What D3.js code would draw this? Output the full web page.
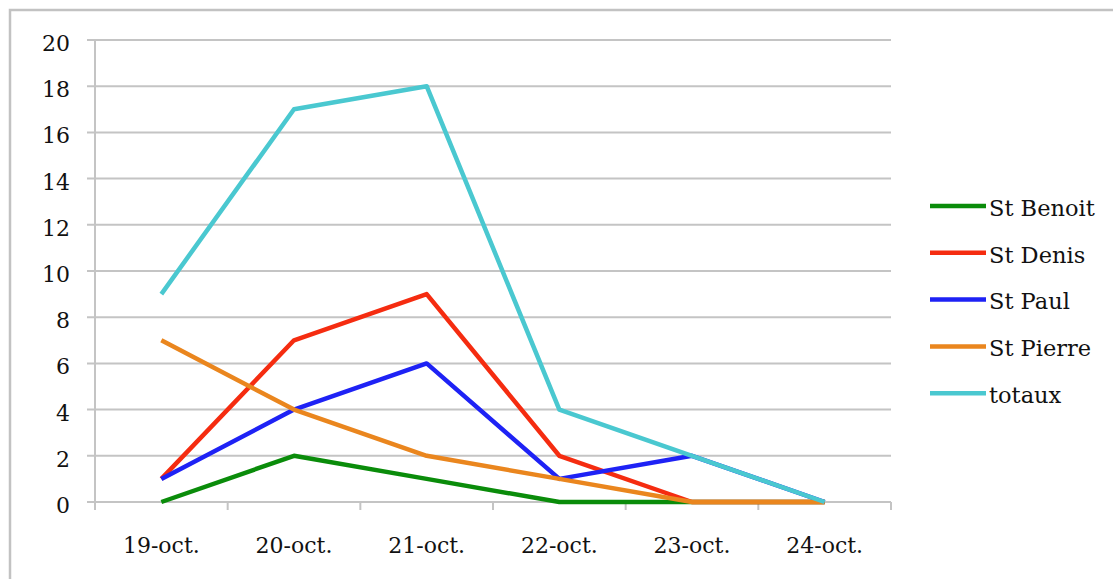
<!DOCTYPE html>
<html>
<head>
<meta charset="utf-8">
<script src="https://cdn.jsdelivr.net/npm/d3@7/dist/d3.min.js"></script>
<style>
  html, body { margin: 0; padding: 0; background: #fff; }
  svg { display: block; }
  text { font-family: "DejaVu Serif", serif; fill: #111; }
</style>
</head>
<body>
<svg id="chart" width="1113" height="579"></svg>
<script>
const categories = ["19-oct.", "20-oct.", "21-oct.", "22-oct.", "23-oct.", "24-oct."];
const seriesNames = ["St Benoit", "St Denis", "St Paul", "St Pierre", "totaux"];
const stBenoit = [0, 2, 1, 0, 0, 0];
const stDenis  = [1, 7, 9, 2, 0, 0];
const stPaul   = [1, 4, 6, 1, 2, 0];
const stPierre = [7, 4, 2, 1, 0, 0];
const totaux   = [9, 17, 18, 4, 2, 0];
const yTicks = [0, 2, 4, 6, 8, 10, 12, 14, 16, 18, 20];
const colors = ["#0a8c0a", "#f52c10", "#1e22f5", "#ea861e", "#4ac8d0"];

const seriesValues = [stBenoit, stDenis, stPaul, stPierre, totaux];

const svg = d3.select("#chart");
const plotLeft = 95, plotRight = 891, plotTop = 40, plotBottom = 502;

// outer frame
svg.append("rect")
  .attr("x", 10).attr("y", 10).attr("width", 1300).attr("height", 800)
  .attr("fill", "none").attr("stroke", "#c2c2c2").attr("stroke-width", 2.5);

const x = d3.scaleBand().domain(categories).range([plotLeft, plotRight]).padding(0);
const y = d3.scaleLinear().domain([0, 20]).range([plotBottom, plotTop]);

// gridlines
svg.append("g").selectAll("line").data(yTicks).join("line")
  .attr("x1", plotLeft - 8).attr("x2", plotRight)
  .attr("y1", d => y(d)).attr("y2", d => y(d))
  .attr("stroke", "#c4c4c4").attr("stroke-width", 2);

// y axis line
svg.append("line")
  .attr("x1", plotLeft).attr("x2", plotLeft).attr("y1", plotTop).attr("y2", plotBottom + 8)
  .attr("stroke", "#c4c4c4").attr("stroke-width", 2);

// x tick marks (between categories)
const tickXs = categories.map(c => x(c)).concat([x(categories[categories.length - 1]) + x.bandwidth()]);
svg.append("g").selectAll("line").data(tickXs).join("line")
  .attr("x1", d => d).attr("x2", d => d)
  .attr("y1", plotBottom).attr("y2", plotBottom + 8)
  .attr("stroke", "#c4c4c4").attr("stroke-width", 2);

// y labels
svg.append("g").selectAll("text").data(yTicks).join("text")
  .attr("x", 70).attr("y", d => y(d) + 3)
  .attr("dy", "0.36em")
  .attr("text-anchor", "end")
  .attr("font-size", 22)
  .text(d => d);

// x labels
svg.append("g").selectAll("text").data(categories).join("text")
  .attr("x", d => x(d) + x.bandwidth() / 2)
  .attr("y", 553)
  .attr("text-anchor", "middle")
  .attr("font-size", 22)
  .text(d => d);

// lines
const line = d3.line()
  .x((d, i) => x(categories[i]) + x.bandwidth() / 2)
  .y(d => y(d));

svg.append("g").selectAll("path").data(seriesValues).join("path")
  .attr("d", d => line(d))
  .attr("fill", "none")
  .attr("stroke", (d, i) => colors[i])
  .attr("stroke-width", 4.5)
  .attr("stroke-linejoin", "round");

// legend
const lg = svg.append("g");
seriesNames.forEach((name, i) => {
  const cy = 206 + i * 46.8;
  lg.append("line")
    .attr("x1", 930).attr("x2", 986).attr("y1", cy).attr("y2", cy)
    .attr("stroke", colors[i]).attr("stroke-width", 4.5);
  lg.append("text")
    .attr("x", 989).attr("y", cy + 2).attr("dy", "0.35em")
    .attr("font-size", 22.5)
    .text(name);
});
</script>
</body>
</html>
